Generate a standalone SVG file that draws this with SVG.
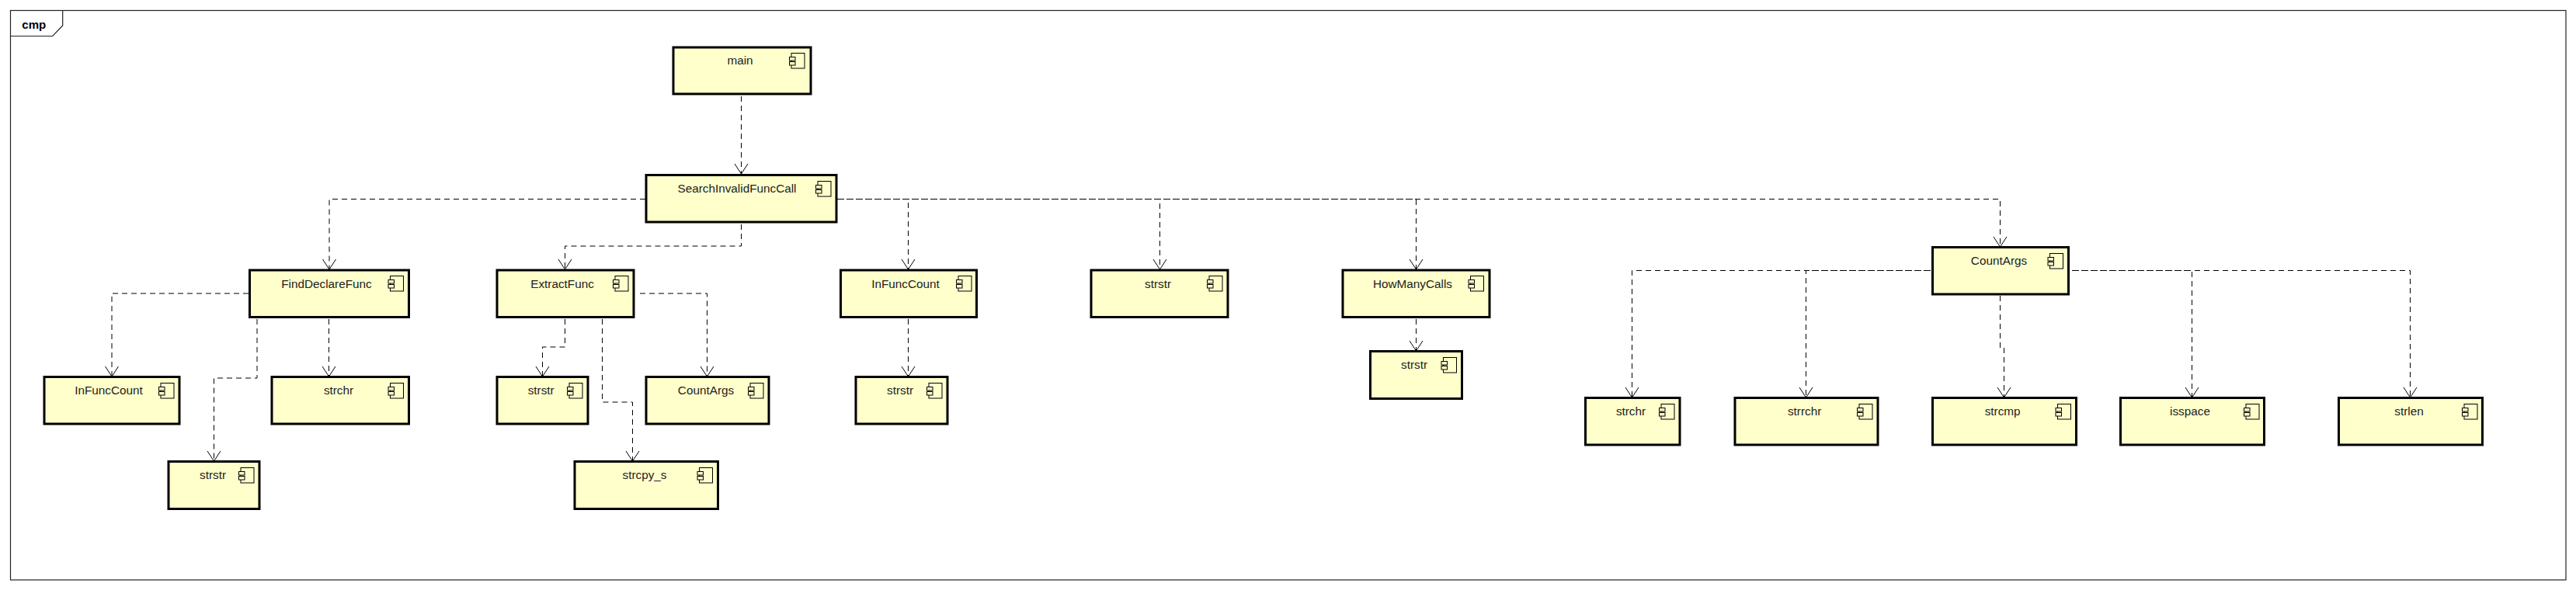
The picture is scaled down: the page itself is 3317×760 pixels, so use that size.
<svg xmlns="http://www.w3.org/2000/svg" width="3317" height="760" viewBox="0 0 3317 760">
<style>
text{font-family:"Liberation Sans",Arial,sans-serif;font-size:15.3px;fill:#222;text-anchor:middle}
.title{font-size:15px;font-weight:bold;text-anchor:start;fill:#000}
.box{fill:#ffffcc;stroke:#000;stroke-width:3}
.frame{fill:none;stroke:#222;stroke-width:1.2}
.ic{fill:#ffffcc;stroke:#000;stroke-width:1}
.c{fill:none;stroke:#000;stroke-width:1;stroke-dasharray:7 5;marker-end:url(#arrow)}
</style>
<defs>
<marker id="arrow" markerUnits="userSpaceOnUse" markerWidth="20" markerHeight="20" refX="15" refY="10" orient="auto" overflow="visible">
<path d="M2 1.5L15 10L2 18.5" fill="none" stroke="#000" stroke-width="1"/>
</marker>
<g id="icon">
<rect class="ic" x="-25" y="7.5" width="17" height="19.5"/>
<rect class="ic" x="-27.5" y="12.5" width="7.5" height="4.5"/>
<rect class="ic" x="-27.5" y="18.5" width="7.5" height="4.5"/>
</g>
</defs>
<rect width="3317" height="760" fill="#fff"/>
<g id="frame">
<rect class="frame" x="13.5" y="13.5" width="3290.5" height="733.5"/>
<path class="frame" d="M13.5 46.5H67.7L80.7 33V13.5"/>
<text class="title" x="28.3" y="36.5">cmp</text>
</g>
<g id="connectors">
<path class="c" d="M954.5 124V224"/>
<path class="c" d="M831 256.5H424V347"/>
<path class="c" d="M954.5 289V317H727.5V347"/>
<path class="c" d="M1078 256.5H1169.5V347"/>
<path class="c" d="M1079 256.5H1493.5V347"/>
<path class="c" d="M1080 256.5H1823.5V347"/>
<path class="c" d="M1078 256.5H2575.5V318"/>
<path class="c" d="M320 378H144V485"/>
<path class="c" d="M423.5 411V485"/>
<path class="c" d="M331 411V487H275.5V594"/>
<path class="c" d="M727.5 411V447H698.5V485"/>
<path class="c" d="M775.5 411V518H814.5V594"/>
<path class="c" d="M824 378H910.5V485"/>
<path class="c" d="M1169.5 411V485"/>
<path class="c" d="M1823.5 411V452"/>
<path class="c" d="M2486 348.5H2101.5V512"/>
<path class="c" d="M2484 348.5H2325.5V512"/>
<path class="c" d="M2575.5 381V448H2580.5V512"/>
<path class="c" d="M2668 348.5H2822.5V512"/>
<path class="c" d="M2670 348.5H3103.5V512"/>
</g>
<g id="n-main"><rect class="box" x="867" y="61" width="177" height="60"/><text x="953" y="83">main</text><use href="#icon" x="1044" y="61"/></g>
<g id="n-search"><rect class="box" x="832" y="225.5" width="245" height="60.5"/><text x="949" y="248">SearchInvalidFuncCall</text><use href="#icon" x="1078" y="226"/></g>
<g id="n-find"><rect class="box" x="321.5" y="348" width="205" height="60.5"/><text x="420.5" y="370.5">FindDeclareFunc</text><use href="#icon" x="527.5" y="348"/></g>
<g id="n-extract"><rect class="box" x="640" y="348" width="176" height="60.5"/><text x="724" y="370.5">ExtractFunc</text><use href="#icon" x="817" y="348"/></g>
<g id="n-infunc1"><rect class="box" x="1082.5" y="348" width="175" height="60.5"/><text x="1166" y="370.5">InFuncCount</text><use href="#icon" x="1259" y="348"/></g>
<g id="n-strstr1"><rect class="box" x="1405" y="348" width="176" height="60.5"/><text x="1491" y="370.5">strstr</text><use href="#icon" x="1582" y="348"/></g>
<g id="n-howmany"><rect class="box" x="1729" y="348" width="189" height="60.5"/><text x="1819" y="370.5">HowManyCalls</text><use href="#icon" x="1918.5" y="348"/></g>
<g id="n-countargs"><rect class="box" x="2488.5" y="318.5" width="175" height="60.5"/><text x="2574" y="341">CountArgs</text><use href="#icon" x="2664.5" y="319"/></g>
<g id="n-infunc2"><rect class="box" x="57" y="485.5" width="174" height="60.5"/><text x="140" y="508">InFuncCount</text><use href="#icon" x="232" y="486"/></g>
<g id="n-strchr1"><rect class="box" x="350" y="485.5" width="176.5" height="60.5"/><text x="436" y="508">strchr</text><use href="#icon" x="527.5" y="486"/></g>
<g id="n-strstr2"><rect class="box" x="217" y="594.5" width="117" height="61"/><text x="274" y="617">strstr</text><use href="#icon" x="335" y="595"/></g>
<g id="n-strstr3"><rect class="box" x="640" y="485.5" width="117" height="60.5"/><text x="696.7" y="508">strstr</text><use href="#icon" x="758" y="486"/></g>
<g id="n-countargs2"><rect class="box" x="832" y="485.5" width="158" height="60.5"/><text x="909" y="508">CountArgs</text><use href="#icon" x="991" y="486"/></g>
<g id="n-strcpy"><rect class="box" x="740" y="594.5" width="184.5" height="61"/><text x="830" y="617">strcpy_s</text><use href="#icon" x="925.5" y="595"/></g>
<g id="n-strstr4"><rect class="box" x="1102" y="485.5" width="118" height="60.5"/><text x="1159" y="508">strstr</text><use href="#icon" x="1221" y="486"/></g>
<g id="n-strstr5"><rect class="box" x="1764.5" y="452.5" width="118" height="61"/><text x="1821" y="475">strstr</text><use href="#icon" x="1883.5" y="453"/></g>
<g id="n-strchr2"><rect class="box" x="2041.5" y="512.5" width="121.5" height="60.5"/><text x="2100" y="535">strchr</text><use href="#icon" x="2164" y="513"/></g>
<g id="n-strrchr"><rect class="box" x="2234" y="512.5" width="184" height="60.5"/><text x="2323.6" y="535">strrchr</text><use href="#icon" x="2419" y="513"/></g>
<g id="n-strcmp"><rect class="box" x="2488.5" y="512.5" width="185" height="60.5"/><text x="2578.6" y="535">strcmp</text><use href="#icon" x="2674.5" y="513"/></g>
<g id="n-isspace"><rect class="box" x="2730.5" y="512.5" width="185" height="60.5"/><text x="2820" y="535">isspace</text><use href="#icon" x="2917" y="513"/></g>
<g id="n-strlen"><rect class="box" x="3011.5" y="512.5" width="185" height="60.5"/><text x="3102" y="535">strlen</text><use href="#icon" x="3198" y="513"/></g>
</svg>
